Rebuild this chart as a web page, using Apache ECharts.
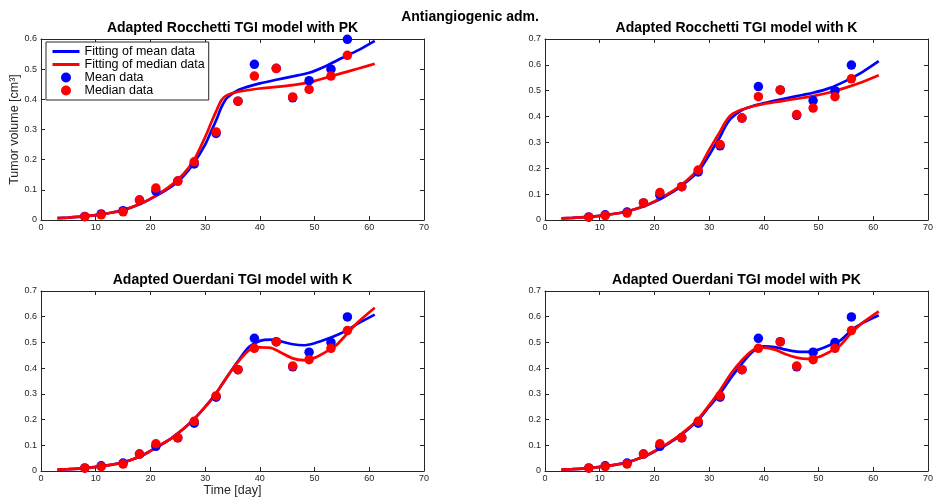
<!DOCTYPE html>
<html>
<head>
<meta charset="utf-8">
<script src="https://cdn.jsdelivr.net/npm/echarts@6/dist/echarts.min.js"></script>
<style>
html,body{margin:0;padding:0;background:#fff;}
#chart{width:936px;height:498px;}
</style>
</head>
<body>
<div id="chart"></div>
<script>
// Observed data (days, tumor volume cm^3)
const obsDays   = [8, 11, 15, 18, 21, 25, 28, 32, 36, 39, 43, 46, 49, 53, 56];
const meanVol   = [0.012, 0.020, 0.031, 0.066, 0.096, 0.129, 0.186, 0.287, 0.394, 0.516, 0.503, 0.405, 0.462, 0.500, 0.599];
const medianVol = [0.011, 0.017, 0.027, 0.066, 0.106, 0.129, 0.193, 0.292, 0.394, 0.477, 0.502, 0.408, 0.433, 0.477, 0.546];

// Fitted curves - Rocchetti panels
const fitDaysR = [3, 5, 8, 10, 13, 15, 18, 20, 22, 24, 26, 28, 30, 31, 32, 33, 34, 36, 38, 40, 43, 46, 49, 52, 55, 58, 61];
const rocPKMean   = [0.006, 0.008, 0.012, 0.016, 0.025, 0.032, 0.052, 0.070, 0.090, 0.113, 0.145, 0.190, 0.250, 0.290, 0.330, 0.375, 0.405, 0.430, 0.443, 0.453, 0.465, 0.476, 0.488, 0.510, 0.537, 0.563, 0.594];
const rocPKMedian = [0.006, 0.008, 0.012, 0.016, 0.025, 0.033, 0.052, 0.070, 0.092, 0.118, 0.152, 0.200, 0.275, 0.318, 0.360, 0.398, 0.414, 0.425, 0.431, 0.436, 0.441, 0.447, 0.456, 0.471, 0.487, 0.502, 0.518];
const rocKMean    = [0.006, 0.008, 0.012, 0.016, 0.025, 0.033, 0.052, 0.070, 0.092, 0.117, 0.150, 0.187, 0.251, 0.287, 0.322, 0.363, 0.393, 0.425, 0.441, 0.452, 0.466, 0.479, 0.492, 0.510, 0.538, 0.572, 0.614];
const rocKMedian  = [0.006, 0.008, 0.012, 0.016, 0.025, 0.033, 0.053, 0.072, 0.095, 0.121, 0.155, 0.196, 0.271, 0.307, 0.342, 0.380, 0.406, 0.427, 0.440, 0.449, 0.459, 0.469, 0.479, 0.493, 0.512, 0.534, 0.560];

// Fitted curves - Ouerdani panels
const fitDaysO = [3, 5, 8, 10, 13, 15, 18, 20, 22, 24, 26, 28, 30, 32, 34, 36, 38, 40, 42, 44, 46, 48, 50, 52, 54, 56, 58, 61];
const ouKMean    = [0.005, 0.007, 0.011, 0.016, 0.025, 0.033, 0.055, 0.078, 0.103, 0.130, 0.163, 0.202, 0.249, 0.302, 0.366, 0.427, 0.482, 0.506, 0.511, 0.503, 0.493, 0.489, 0.497, 0.511, 0.528, 0.548, 0.574, 0.608];
const ouKMedian  = [0.005, 0.007, 0.011, 0.016, 0.025, 0.033, 0.055, 0.078, 0.103, 0.130, 0.163, 0.202, 0.249, 0.302, 0.366, 0.424, 0.469, 0.481, 0.479, 0.459, 0.438, 0.431, 0.440, 0.462, 0.490, 0.535, 0.580, 0.635];
const ouPKMean   = [0.005, 0.007, 0.011, 0.016, 0.025, 0.033, 0.055, 0.076, 0.100, 0.127, 0.160, 0.198, 0.250, 0.301, 0.363, 0.418, 0.465, 0.485, 0.482, 0.472, 0.464, 0.463, 0.472, 0.489, 0.508, 0.547, 0.575, 0.606];
const ouPKMedian = [0.005, 0.007, 0.011, 0.016, 0.025, 0.033, 0.055, 0.077, 0.102, 0.130, 0.163, 0.202, 0.256, 0.314, 0.379, 0.431, 0.470, 0.480, 0.472, 0.454, 0.441, 0.436, 0.443, 0.463, 0.489, 0.537, 0.576, 0.621];

// Panel texts / axis ticks
const mainTitle = 'Antiangiogenic adm.';
const panelTitles = ['Adapted Rocchetti TGI model with PK', 'Adapted Rocchetti TGI model with K',
                     'Adapted Ouerdani TGI model with K', 'Adapted Ouerdani TGI model with PK'];
const yMaxes = [0.6, 0.7, 0.7, 0.7];
const xTicks = {min: 0, max: 70, interval: 10};
const legendNames = ['Fitting of mean data', 'Fitting of median data', 'Mean data', 'Median data'];

const panels = [
  {days: fitDaysR, mean: rocPKMean, median: rocPKMedian},
  {days: fitDaysR, mean: rocKMean, median: rocKMedian},
  {days: fitDaysO, mean: ouKMean, median: ouKMedian},
  {days: fitDaysO, mean: ouPKMean, median: ouPKMedian}
];

const FONT = '"Liberation Sans", Arial, Helvetica, sans-serif';
const AX = '#262626';
const BLUE = '#0000FF', RED = '#FF0000';

const grids = [
  {left: 41, top: 39, width: 383, height: 181},
  {left: 545, top: 39, width: 383, height: 181},
  {left: 41, top: 291, width: 383, height: 180},
  {left: 545, top: 291, width: 383, height: 180}
];

const xAxes = [], yAxes = [], series = [], graphics = [];
const zip = (a, b) => a.map((v, i) => [v, b[i]]);

grids.forEach((g, i) => {
  const common = {
    gridIndex: i, type: 'value',
    axisLine: {show: true, onZero: false, lineStyle: {color: AX, width: 1}},
    axisTick: {show: true, inside: true, length: 4, lineStyle: {color: AX}},
    splitLine: {show: false}
  };
  xAxes.push(Object.assign({}, common, {
    position: 'bottom', min: xTicks.min, max: xTicks.max, interval: xTicks.interval,
    axisLabel: {fontSize: 9, color: AX, fontFamily: FONT, margin: 3},
    name: i === 2 ? 'Time [day]' : '', nameLocation: 'middle', nameGap: 12,
    nameTextStyle: {fontSize: 12.5, color: AX, fontFamily: FONT}
  }));
  xAxes.push(Object.assign({}, common, {
    position: 'top', min: xTicks.min, max: xTicks.max, interval: xTicks.interval,
    axisLabel: {show: false}
  }));
  yAxes.push(Object.assign({}, common, {
    position: 'left', min: 0, max: yMaxes[i], interval: 0.1,
    axisLabel: {fontSize: 9, color: AX, fontFamily: FONT, margin: 4},
    name: i === 0 ? 'Tumor volume [cm³]' : '', nameLocation: 'middle', nameGap: 19,
    nameTextStyle: {fontSize: 12.5, color: AX, fontFamily: FONT}
  }));
  yAxes.push(Object.assign({}, common, {
    position: 'right', min: 0, max: yMaxes[i], interval: 0.1,
    axisLabel: {show: false}
  }));
  const xi = 2 * i, yi = 2 * i;
  const p = panels[i];
  series.push({
    name: legendNames[0], type: 'line', xAxisIndex: xi, yAxisIndex: yi,
    data: zip(p.days, p.mean), symbol: 'none', smooth: 0.25,
    lineStyle: {color: BLUE, width: 2.7}, itemStyle: {color: BLUE}, z: 2
  });
  series.push({
    name: legendNames[1], type: 'line', xAxisIndex: xi, yAxisIndex: yi,
    data: zip(p.days, p.median), symbol: 'none', smooth: 0.25,
    lineStyle: {color: RED, width: 2.7}, itemStyle: {color: RED}, z: 3
  });
  series.push({
    name: legendNames[2], type: 'scatter', xAxisIndex: xi, yAxisIndex: yi,
    data: zip(obsDays, meanVol), symbol: 'circle', symbolSize: 9.5,
    itemStyle: {color: BLUE, opacity: 1}, z: 4
  });
  series.push({
    name: legendNames[3], type: 'scatter', xAxisIndex: xi, yAxisIndex: yi,
    data: zip(obsDays, medianVol), symbol: 'circle', symbolSize: 9.5,
    itemStyle: {color: RED, opacity: 1}, z: 5
  });
  graphics.push({
    type: 'text', x: g.left + g.width / 2, y: g.top - 11,
    style: {text: panelTitles[i], fill: '#000', textAlign: 'center', textVerticalAlign: 'middle',
            font: 'bold 14px ' + FONT}
  });
});

graphics.push({
  type: 'text', x: 470, y: 17,
  style: {text: mainTitle, fill: '#000', textAlign: 'center', textVerticalAlign: 'middle',
          font: 'bold 14px ' + FONT}
});

const hiddenSymbol = {color: 'rgba(0,0,0,0)', borderWidth: 0, opacity: 0};
const chart = echarts.init(document.getElementById('chart'), null, {renderer: 'canvas'});
chart.setOption({
  animation: false,
  backgroundColor: '#fff',
  grid: grids.map(g => Object.assign({containLabel: false}, g)),
  xAxis: xAxes,
  yAxis: yAxes,
  series: series,
  graphic: graphics,
  legend: {
    data: [
      {name: legendNames[0], itemStyle: hiddenSymbol, lineStyle: {width: 3}},
      {name: legendNames[1], itemStyle: hiddenSymbol, lineStyle: {width: 3}},
      {name: legendNames[2]},
      {name: legendNames[3]}
    ],
    orient: 'vertical', left: 46, top: 42,
    padding: [3, 4, 3, 5], itemGap: 0, itemWidth: 27, itemHeight: 10,
    borderColor: AX, borderWidth: 1, backgroundColor: '#fff',
    textStyle: {fontSize: 12.5, color: '#000', fontFamily: FONT, lineHeight: 12},
    selectedMode: false, z: 10
  }
});
</script>
</body>
</html>
